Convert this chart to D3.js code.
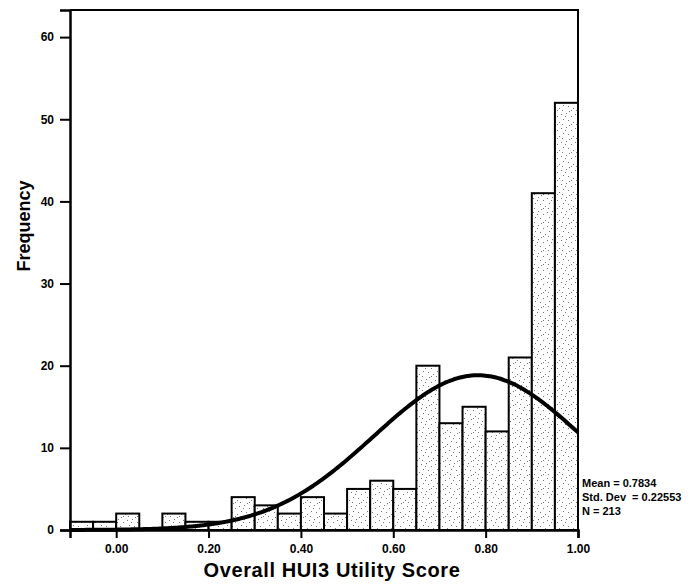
<!DOCTYPE html>
<html>
<head>
<meta charset="utf-8">
<script src="https://cdn.jsdelivr.net/npm/d3@7"></script>
<style>
  body { margin: 0; background: #fff; }
  text { font-family: "Liberation Sans", Arial, sans-serif; }
</style>
</head>
<body>
<svg id="chart" width="700" height="586"></svg>
<script>
// bin left edges (width 0.05) and counts
var binStarts = [-0.10, -0.05, 0.00, 0.05, 0.10, 0.15, 0.20, 0.25, 0.30, 0.35, 0.40,
  0.45, 0.50, 0.55, 0.60, 0.65, 0.70, 0.75, 0.80, 0.85, 0.90, 0.95];
var counts = [1, 1, 2, 0, 2, 1, 1, 4, 3, 2, 4,
  2, 5, 6, 5, 20, 13, 15, 12, 21, 41, 52];
var binWidth = 0.05;
var xTicks = [0.0, 0.2, 0.4, 0.6, 0.8, 1.0];
var yTicks = [0, 10, 20, 30, 40, 50, 60];
var stats = ["Mean = 0.7834", "Std. Dev  = 0.22553", "N = 213"];
var mean = 0.7834, sd = 0.22553, n = 213;

var svg = d3.select("#chart");
var pLeft = 70, pRight = 578, pTop = 10, pBottom = 530;

var x = d3.scaleLinear().domain([-0.1, 1.0]).range([pLeft, pRight]);
var y = d3.scaleLinear().domain([0, 63.3]).range([pBottom, pTop]);

var bins = binStarts.map(function (b, i) { return { x0: b, count: counts[i] }; })
  .filter(function (d) { return d.count > 0; });

// stipple pattern for bar fill
var defs = svg.append("defs");
var pat = defs.append("pattern")
  .attr("id", "stipple")
  .attr("patternUnits", "userSpaceOnUse")
  .attr("width", 14).attr("height", 14);
pat.append("rect").attr("width", 14).attr("height", 14).attr("fill", "#fff");
var dots = [[1, 2], [6, 1], [11, 4], [3, 7], [8, 8], [13, 10], [2, 12], [9, 13], [5, 4], [11, 12]];
pat.selectAll("rect.dot").data(dots).enter().append("rect")
  .attr("class", "dot")
  .attr("x", function (d) { return d[0]; })
  .attr("y", function (d) { return d[1]; })
  .attr("width", 1).attr("height", 1)
  .attr("fill", "#777");

// bars
svg.append("g").selectAll("rect")
  .data(bins)
  .enter().append("rect")
  .attr("x", function (d) { return x(d.x0); })
  .attr("y", function (d) { return y(d.count); })
  .attr("width", function (d) { return x(d.x0 + binWidth) - x(d.x0); })
  .attr("height", function (d) { return pBottom - y(d.count); })
  .attr("fill", "url(#stipple)")
  .attr("stroke", "#000")
  .attr("stroke-width", 2);

// frame top and right
svg.append("path")
  .attr("d", "M" + pLeft + "," + pTop + "H" + pRight + "V" + pBottom)
  .attr("fill", "none").attr("stroke", "#000").attr("stroke-width", 2);

// axes
var xAxis = svg.append("g")
  .attr("transform", "translate(0," + pBottom + ")")
  .call(d3.axisBottom(x).tickValues(xTicks).tickFormat(d3.format(".2f")).tickSizeOuter(0).tickSize(8).tickPadding(6));
var yAxis = svg.append("g")
  .attr("transform", "translate(" + pLeft + ",0)")
  .call(d3.axisLeft(y).tickValues(yTicks).tickSizeOuter(0).tickSize(10).tickPadding(6));

[xAxis, yAxis].forEach(function (g) {
  g.select(".domain").attr("stroke-width", 2.5).attr("stroke", "#000");
  g.selectAll(".tick line").attr("stroke-width", 2).attr("stroke", "#000");
  g.selectAll(".tick text")
    .attr("font-size", 12).attr("font-weight", "bold")
    .attr("font-family", "'Liberation Sans', Arial, sans-serif").attr("fill", "#000");
});

// normal curve
var curvePts = d3.range(-0.1, 1.0001, 0.005).map(function (v) {
  var z = (v - mean) / sd;
  return [v, n * binWidth * Math.exp(-0.5 * z * z) / (sd * Math.sqrt(2 * Math.PI))];
});
svg.append("path")
  .datum(curvePts)
  .attr("d", d3.line().x(function (d) { return x(d[0]); }).y(function (d) { return y(d[1]); }).curve(d3.curveBasis))
  .attr("fill", "none").attr("stroke", "#000").attr("stroke-width", 4);

// axis titles
svg.append("text")
  .attr("x", 332).attr("y", 577)
  .attr("text-anchor", "middle")
  .attr("font-size", 20).attr("font-weight", "bold")
  .attr("letter-spacing", 0.6)
  .text("Overall HUI3 Utility Score");
svg.append("text")
  .attr("transform", "translate(30,226) rotate(-90)")
  .attr("text-anchor", "middle")
  .attr("font-size", 18).attr("font-weight", "bold")
  .text("Frequency");

// stats box
svg.append("g").selectAll("text")
  .data(stats).enter().append("text")
  .attr("x", 582)
  .attr("y", function (d, i) { return 487 + i * 14; })
  .attr("font-size", 11).attr("font-weight", "bold")
  .style("white-space", "pre")
  .attr("xml:space", "preserve")
  .text(function (d) { return d; });
</script>
</body>
</html>
